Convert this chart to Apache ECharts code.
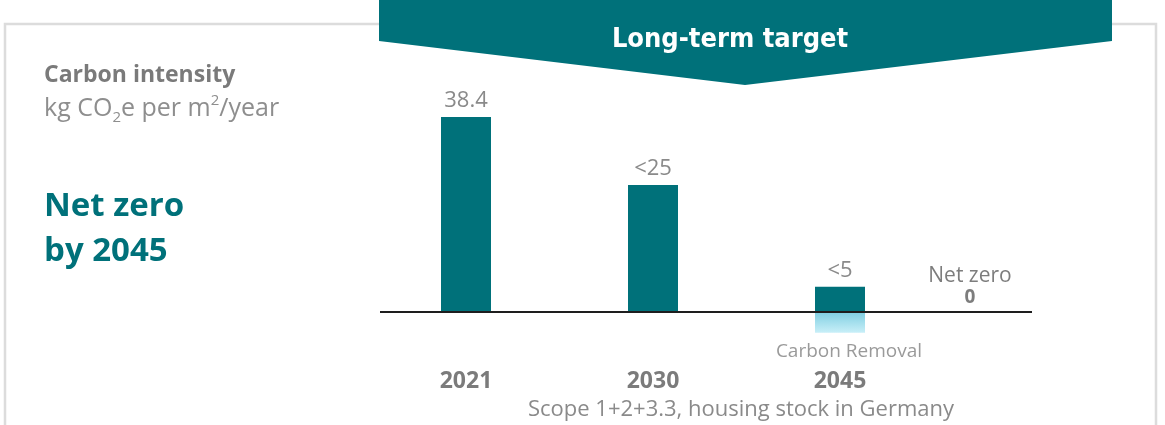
<!DOCTYPE html>
<html>
<head>
<meta charset="utf-8">
<script src="https://cdn.jsdelivr.net/npm/echarts@6/dist/echarts.min.js"></script>
<style>
html,body{margin:0;padding:0;background:#fff;}
#c{width:1165px;height:425px;}
</style>
</head>
<body>
<div id="c"></div>
<script>
// ---- data ----
var categories = ['2021', '2030', '2045', 'Net zero'];
var intensity = [38.4, 25, 5, 0];
var valueLabels = ['38.4', '<25', '<5', 'Net zero'];
var removal = [null, null, -4.1, null];
var removalLabel = 'Carbon Removal';
var subtitle = 'Scope 1+2+3.3, housing stock in Germany';

var TEAL = '#00717a';
var FONT = '"Open Sans"';

var chart = echarts.init(document.getElementById('c'), null, {renderer: 'canvas'});

var option = {
  animation: false,
  backgroundColor: '#ffffff',
  grid: {left: 372.5, right: 44.5, top: 58.1, bottom: 62.2},
  xAxis: {
    type: 'category',
    data: categories,
    axisLine: {show: false},
    axisTick: {show: false},
    axisLabel: {
      margin: 7,
      fontFamily: FONT,
      fontWeight: 'bold',
      fontSize: 23,
      color: '#7b7b7b',
      formatter: function (v, i) { return i < 3 ? v : ''; }
    }
  },
  yAxis: {
    type: 'value',
    min: -10,
    max: 50,
    show: false,
    splitLine: {show: false}
  },
  series: [
    {
      type: 'bar',
      name: 'Carbon intensity',
      data: intensity,
      barWidth: 50,
      itemStyle: {color: TEAL},
      z: 3,
      label: {
        show: true,
        position: 'top',
        distance: 5,
        fontFamily: FONT,
        fontSize: 22,
        color: '#8a8a8a',
        formatter: function (p) {
          if (p.dataIndex === 3) return '{a|' + valueLabels[3] + '}\n{b|' + intensity[3] + '}';
          return valueLabels[p.dataIndex];
        },
        rich: {
          a: {fontFamily: FONT, fontSize: 21, color: '#7d7d7d', lineHeight: 22, align: 'center'},
          b: {fontFamily: FONT, fontSize: 19, fontWeight: 'bold', color: '#7d7d7d', lineHeight: 22, align: 'center'}
        }
      },
      labelLayout: function (params) {
        if (params.dataIndex === 3) {
          return {dx: -57, dy: 2};
        }
        return {};
      }
    },
    {
      type: 'bar',
      name: removalLabel,
      data: removal,
      barWidth: 50,
      barGap: '-100%',
      z: 2,
      itemStyle: {
        color: new echarts.graphic.LinearGradient(0, 0, 0, 1, [
          {offset: 0, color: '#7fcfe2'},
          {offset: 1, color: '#c9eff8'}
        ])
      },
      label: {
        show: true,
        position: 'bottom',
        distance: 9,
        offset: [9, 0],
        fontFamily: FONT,
        fontSize: 19,
        color: '#9a9a9a',
        formatter: function () { return removalLabel; }
      }
    }
  ],
  graphic: [
    {
      type: 'rect',
      z: 0,
      shape: {x: 5, y: 24, width: 1151, height: 430},
      style: {fill: 'none', stroke: '#dcdcdc', lineWidth: 2.5}
    },
    {
      type: 'polygon',
      z: 10,
      shape: {points: [[379, 0], [1112, 0], [1112, 41], [745, 85], [379, 41]]},
      style: {fill: TEAL}
    },
    {
      type: 'text',
      z: 11,
      x: 730, y: 40,
      style: {
        text: 'Long-term target',
        fill: '#ffffff',
        font: 'bold 27px "DejaVu Sans Condensed", "Liberation Sans Narrow", sans-serif',
        textAlign: 'center',
        textVerticalAlign: 'middle'
      }
    },
    {
      type: 'line',
      z: 5,
      shape: {x1: 380, y1: 312, x2: 1032, y2: 312},
      style: {stroke: '#1e1e1e', lineWidth: 2}
    },
    {
      type: 'text',
      x: 44, y: 75,
      style: {
        text: 'Carbon intensity',
        fill: '#7a7a7a',
        font: 'bold 23px "Open Sans", sans-serif',
        textVerticalAlign: 'middle'
      }
    },
    {
      type: 'text',
      x: 44, y: 107,
      style: {
        text: '{t|kg CO}{s|2}{t|e per m}{p|2}{t|/year}',
        textVerticalAlign: 'middle',
        rich: {
          t: {fontFamily: FONT, fontSize: 25, fill: '#8e8e8e', verticalAlign: 'bottom', lineHeight: 28},
          s: {fontFamily: FONT, fontSize: 15, fill: '#8e8e8e', verticalAlign: 'bottom', padding: [0, 0, -4, 0], lineHeight: 28},
          p: {fontFamily: FONT, fontSize: 15, fill: '#8e8e8e', verticalAlign: 'top', padding: [0, 0, 8, 0], lineHeight: 28}
        }
      }
    },
    {
      type: 'text',
      x: 44, y: 229,
      style: {
        text: 'Net zero\nby 2045',
        fill: TEAL,
        font: 'bold 33px "Open Sans", sans-serif',
        lineHeight: 45,
        textVerticalAlign: 'middle'
      }
    },
    {
      type: 'text',
      x: 741, y: 410,
      style: {
        text: subtitle,
        fill: '#8a8a8a',
        font: '22px "Open Sans", sans-serif',
        textAlign: 'center',
        textVerticalAlign: 'middle'
      }
    }
  ]
};

chart.setOption(option);
</script>
</body>
</html>
